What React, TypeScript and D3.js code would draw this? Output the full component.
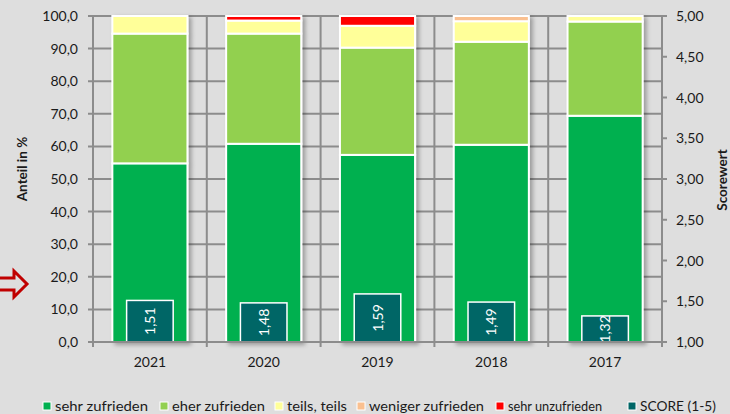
import React, { useEffect, useRef } from "react";
import * as d3 from "d3";

// Jahre und Anteile in % (gestapelt, von unten nach oben)
const years = ["2021", "2020", "2019", "2018", "2017"];
const sehrZufrieden = [54.8, 60.8, 57.4, 60.5, 69.4];
const eherZufrieden = [39.8, 33.8, 32.9, 31.6, 28.9];
const teilsTeils = [5.4, 4.0, 6.7, 6.3, 1.7];
const wenigerZufrieden = [0, 0, 0, 1.6, 0];
const sehrUnzufrieden = [0, 1.4, 3.0, 0, 0];
const score = [1.51, 1.48, 1.59, 1.49, 1.32];

const seriesNames = [
  "sehr zufrieden",
  "eher zufrieden",
  "teils, teils",
  "weniger zufrieden",
  "sehr unzufrieden",
];
const seriesColors = ["#00B050", "#92D050", "#FFFF99", "#FAC090", "#FF0000"];
const scoreColor = "#006666";

const leftTicks = [0, 10, 20, 30, 40, 50, 60, 70, 80, 90, 100];
const rightTicks = [1, 1.5, 2, 2.5, 3, 3.5, 4, 4.5, 5];

const App = () => {
  const svgRef = useRef<SVGSVGElement>(null);

  useEffect(() => {
    document.body.style.margin = "0";
    document.body.style.overflow = "hidden";

    const width = 730;
    const height = 414;
    const margin = { top: 16, right: 68, bottom: 72, left: 93 };
    const font = "Lato, 'Open Sans', sans-serif";
    const textColor = "#1a1a1a";
    const gridColor = "#8c8c8c";

    const svg = d3.select(svgRef.current);
    svg.selectAll("*").remove();
    svg.attr("width", width).attr("height", height);

    svg
      .append("rect")
      .attr("width", width)
      .attr("height", height)
      .attr("fill", "#DEDEDE");

    const defs = svg.append("defs");
    const shadow = defs
      .append("filter")
      .attr("id", "shadow")
      .attr("x", "-20%")
      .attr("y", "-5%")
      .attr("width", "140%")
      .attr("height", "110%");
    shadow
      .append("feDropShadow")
      .attr("dx", 3)
      .attr("dy", 2)
      .attr("stdDeviation", 2)
      .attr("flood-color", "#000")
      .attr("flood-opacity", 0.3);

    const x = d3
      .scaleBand()
      .domain(years)
      .range([margin.left, width - margin.right])
      .paddingInner(0.34)
      .paddingOuter(0.17);

    const y = d3
      .scaleLinear()
      .domain([0, 100])
      .range([height - margin.bottom, margin.top]);

    const yScore = d3
      .scaleLinear()
      .domain([1, 5])
      .range([height - margin.bottom, margin.top]);

    const x0 = margin.left;
    const x1 = width - margin.right;
    const y0 = height - margin.bottom;
    const step = x.step();

    // Gitterlinien horizontal
    svg
      .append("g")
      .selectAll("line")
      .data(leftTicks)
      .enter()
      .append("line")
      .attr("x1", x0 - 5)
      .attr("x2", x1)
      .attr("y1", (d) => y(d))
      .attr("y2", (d) => y(d))
      .attr("stroke", gridColor)
      .attr("stroke-width", 2);

    // Gitterlinien vertikal (Kategoriegrenzen)
    svg
      .append("g")
      .selectAll("line")
      .data(d3.range(years.length + 1))
      .enter()
      .append("line")
      .attr("x1", (i) => x0 + i * step)
      .attr("x2", (i) => x0 + i * step)
      .attr("y1", margin.top)
      .attr("y2", y0 + 5)
      .attr("stroke", gridColor)
      .attr("stroke-width", 2);

    // rechte Achsenticks
    svg
      .append("g")
      .selectAll("line")
      .data(rightTicks)
      .enter()
      .append("line")
      .attr("x1", x1)
      .attr("x2", x1 + 5)
      .attr("y1", (d) => yScore(d))
      .attr("y2", (d) => yScore(d))
      .attr("stroke", gridColor)
      .attr("stroke-width", 2);

    // Stapel
    const table = years.map((year, i) => ({
      year,
      s0: sehrZufrieden[i],
      s1: eherZufrieden[i],
      s2: teilsTeils[i],
      s3: wenigerZufrieden[i],
      s4: sehrUnzufrieden[i],
    }));
    const stack = d3.stack<any>().keys(["s0", "s1", "s2", "s3", "s4"]);
    const stacked = stack(table);

    const bars = svg.append("g").attr("filter", "url(#shadow)");
    stacked.forEach((layer, k) => {
      bars
        .append("g")
        .selectAll("rect")
        .data(layer.filter((d) => d[1] - d[0] > 0))
        .enter()
        .append("rect")
        .attr("x", (d) => x(d.data.year) as number)
        .attr("y", (d) => y(d[1]))
        .attr("width", x.bandwidth())
        .attr("height", (d) => y(d[0]) - y(d[1]))
        .attr("fill", seriesColors[k])
        .attr("stroke", "#fff")
        .attr("stroke-width", 2);
    });

    // Score-Balken
    const sw = x.bandwidth() * 0.62;
    const scoreG = svg.append("g");
    scoreG
      .selectAll("rect")
      .data(score)
      .enter()
      .append("rect")
      .attr("x", (d, i) => (x(years[i]) as number) + (x.bandwidth() - sw) / 2)
      .attr("y", (d) => yScore(d))
      .attr("width", sw)
      .attr("height", (d) => yScore(1) - yScore(d))
      .attr("fill", scoreColor)
      .attr("stroke", "#fff")
      .attr("stroke-width", 1.5);

    scoreG
      .selectAll("text")
      .data(score)
      .enter()
      .append("text")
      .attr("transform", (d, i) => {
        const cx = (x(years[i]) as number) + x.bandwidth() / 2;
        const cy = (yScore(d) + yScore(1)) / 2;
        return `translate(${cx + 5},${cy}) rotate(-90)`;
      })
      .attr("text-anchor", "middle")
      .attr("fill", "#fff")
      .attr("font-family", font)
      .attr("font-size", 14)
      .text((d) => d.toFixed(2).replace(".", ","));

    // Achsenlinie unten
    svg
      .append("line")
      .attr("x1", x0 - 5)
      .attr("x2", x1)
      .attr("y1", y0)
      .attr("y2", y0)
      .attr("stroke", gridColor)
      .attr("stroke-width", 2);

    // Achsenbeschriftung links
    svg
      .append("g")
      .selectAll("text")
      .data(leftTicks)
      .enter()
      .append("text")
      .attr("x", x0 - 15)
      .attr("y", (d) => y(d) + 5)
      .attr("text-anchor", "end")
      .attr("fill", textColor)
      .attr("font-family", font)
      .attr("font-size", 14)
      .text((d) => d.toFixed(1).replace(".", ","));

    // Achsenbeschriftung rechts
    svg
      .append("g")
      .selectAll("text")
      .data(rightTicks)
      .enter()
      .append("text")
      .attr("x", x1 + 14)
      .attr("y", (d) => yScore(d) + 5)
      .attr("text-anchor", "start")
      .attr("fill", textColor)
      .attr("font-family", font)
      .attr("font-size", 14)
      .text((d) => d.toFixed(2).replace(".", ","));

    // Jahre
    svg
      .append("g")
      .selectAll("text")
      .data(years)
      .enter()
      .append("text")
      .attr("x", (d) => (x(d) as number) + x.bandwidth() / 2)
      .attr("y", y0 + 25)
      .attr("text-anchor", "middle")
      .attr("fill", textColor)
      .attr("font-family", font)
      .attr("font-size", 14)
      .text((d) => d);

    // Achsentitel
    svg
      .append("text")
      .attr("transform", `translate(27,169) rotate(-90)`)
      .attr("text-anchor", "middle")
      .attr("fill", textColor)
      .attr("font-family", font)
      .attr("font-size", 13.5)
      .attr("font-weight", "bold")
      .text("Anteil in %");

    svg
      .append("text")
      .attr("transform", `translate(727,180) rotate(-90)`)
      .attr("text-anchor", "middle")
      .attr("fill", textColor)
      .attr("font-family", font)
      .attr("font-size", 13.5)
      .attr("font-weight", "bold")
      .text("Scorewert");

    // roter Pfeil links
    svg
      .append("path")
      .attr("d", "M0,278 L14,278 L14,271 L27,284 L14,297 L14,290 L0,290")
      .attr("fill", "none")
      .attr("stroke", "#C00000")
      .attr("stroke-width", 3);

    // Legende
    const legendItems = seriesNames
      .map((name, i) => ({ name, color: seriesColors[i] }))
      .concat([{ name: "SCORE (1-5)", color: scoreColor }]);
    const legendX = [43, 160, 275, 357, 496, 628];
    const legendW = [93, 93, 60, 115, 94, 76];
    const legend = svg
      .append("g")
      .selectAll("g")
      .data(legendItems)
      .enter()
      .append("g")
      .attr("transform", (d, i) => `translate(${legendX[i]},406)`);
    legend
      .append("rect")
      .attr("x", 0)
      .attr("y", -4)
      .attr("width", 8)
      .attr("height", 8)
      .attr("fill", (d) => d.color)
      .attr("stroke", "#fff")
      .attr("stroke-width", 1);
    legend
      .append("text")
      .attr("x", 12)
      .attr("y", 5)
      .attr("fill", textColor)
      .attr("font-family", font)
      .attr("font-size", 14)
      .attr("textLength", (d, i) => legendW[i])
      .attr("lengthAdjust", "spacingAndGlyphs")
      .text((d) => d.name);
  }, []);

  return (
    <div style={{ position: "absolute", left: 0, top: 0 }}>
      <svg ref={svgRef} style={{ display: "block" }} />
    </div>
  );
};

export default App;
